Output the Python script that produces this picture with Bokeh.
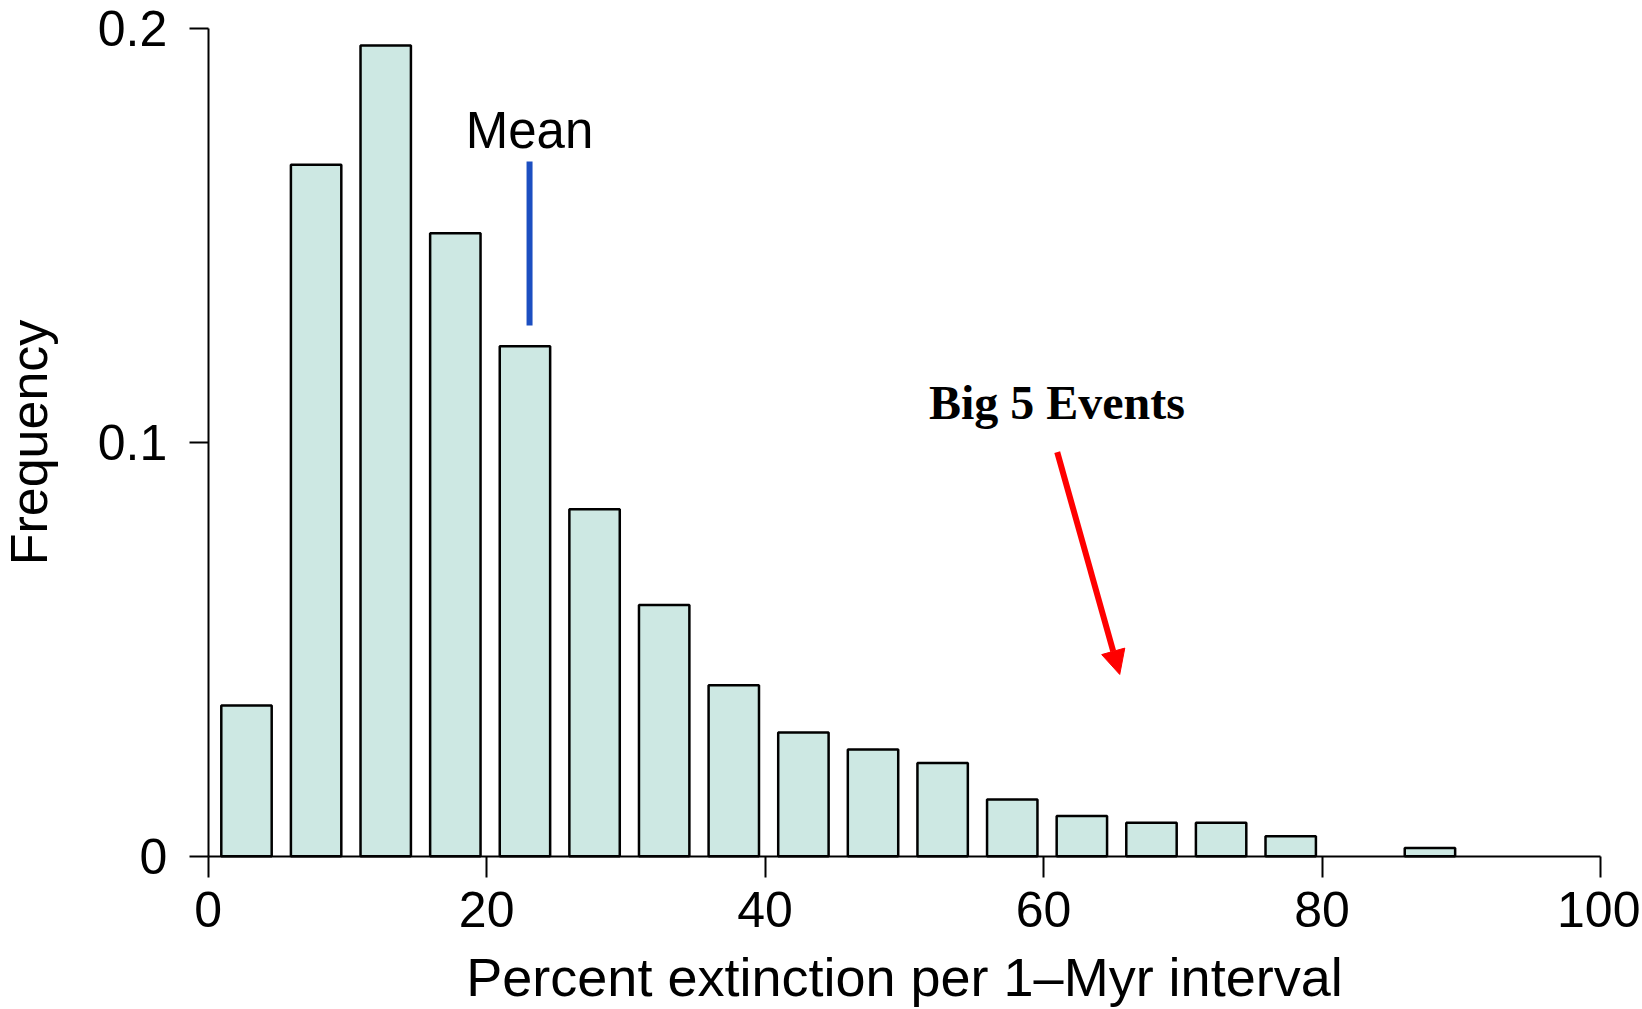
from bokeh.plotting import figure
from bokeh.models import Range1d, FixedTicker, Arrow, NormalHead, Label, LinearAxis
from bokeh.embed import file_html
from bokeh.resources import INLINE

# ---- data ----
bin_start = [0, 5, 10, 15, 20, 25, 30, 35, 40, 45, 50, 55, 60, 65, 70, 75, 80, 85]
frequency = [0.0364, 0.1670, 0.1958, 0.1505, 0.1232, 0.0838, 0.0607, 0.0413, 0.0299,
             0.0258, 0.0225, 0.0137, 0.0097, 0.0081, 0.0081, 0.0048, 0.0, 0.0020]
bin_width = 5
x_ticks = [0, 20, 40, 60, 80, 100]
y_ticks = [0, 0.1, 0.2]
y_tick_labels = ["0", "0.1", "0.2"]
x_label = "Percent extinction per 1\u2013Myr interval"
y_label = "Frequency"

mean_value = 23.08
mean_line_low = 0.1282
mean_line_high = 0.1678
mean_text = "Mean"
mean_text_y = 0.1753

events_text = "Big 5 Events"
events_text_x = 60.96
events_text_y = 0.1096
arrow_start = (60.98, 0.0976)
arrow_end = (65.47, 0.0439)

# ---- styles ----
BAR_FILL = "#cde8e3"
BAR_SHIFT = 0.25
BAR_W = 3.62
FONT = "Liberation Sans"
W, H = 1640, 1007

p = figure(width=W, height=H, output_backend="svg", toolbar_location=None,
           x_range=Range1d(-14.918, 102.873), y_range=Range1d(-0.036546, 0.206691),
           x_axis_location=None, y_axis_location=None, min_border=0)
p.outline_line_color = None
p.background_fill_color = "white"
p.border_fill_color = "white"
p.grid.visible = False

xs = [b + bin_width / 2 + BAR_SHIFT for b, f in zip(bin_start, frequency) if f > 0]
tops = [f for f in frequency if f > 0]
p.vbar(x=xs, top=tops, bottom=0, width=BAR_W, fill_color=BAR_FILL,
       line_color="black", line_width=2.5)

p.segment(x0=[mean_value], y0=[mean_line_low], x1=[mean_value], y1=[mean_line_high],
          line_color="#1c4fc1", line_width=6)

p.add_layout(Label(x=mean_value, y=mean_text_y, text=mean_text, text_align="center",
                   text_baseline="alphabetic", text_font=FONT, text_font_size="51px",
                   text_color="black"))
p.add_layout(Label(x=events_text_x, y=events_text_y, text=events_text, text_align="center",
                   text_baseline="alphabetic", text_font="Liberation Serif",
                   text_font_style="bold", text_font_size="48px", text_color="black"))
p.add_layout(Arrow(end=NormalHead(size=24, fill_color="red", line_color="red", line_width=1),
                   x_start=arrow_start[0], y_start=arrow_start[1],
                   x_end=arrow_end[0], y_end=arrow_end[1],
                   line_color="red", line_width=6))

xaxis = LinearAxis(fixed_location=0, bounds=(0, 100), ticker=FixedTicker(ticks=x_ticks),
                   axis_label=x_label)
yaxis = LinearAxis(fixed_location=0, bounds=(0, 0.2), ticker=FixedTicker(ticks=y_ticks),
                   axis_label=y_label,
                   major_label_overrides={t: s for t, s in zip(y_ticks, y_tick_labels)})
for ax in (xaxis, yaxis):
    ax.axis_line_color = "black"
    ax.axis_line_width = 2
    ax.major_tick_line_color = "black"
    ax.major_tick_line_width = 2
    ax.major_tick_in = 0
    ax.minor_tick_line_color = None
    ax.major_label_text_font = FONT
    ax.major_label_text_font_size = "50px"
    ax.major_label_text_color = "black"
    ax.axis_label_text_font = FONT
    ax.axis_label_text_font_style = "normal"
    ax.axis_label_text_color = "black"

xaxis.major_tick_out = 21
xaxis.major_label_standoff = 15
xaxis.axis_label_standoff = 16
xaxis.axis_label_text_font_size = "54px"

yaxis.major_tick_out = 19
yaxis.major_label_standoff = 22
yaxis.axis_label_standoff = 37
yaxis.axis_label_text_font_size = "52px"

p.add_layout(xaxis, "below")
p.add_layout(yaxis, "left")

open("out.html", "w").write(file_html(p, INLINE))
